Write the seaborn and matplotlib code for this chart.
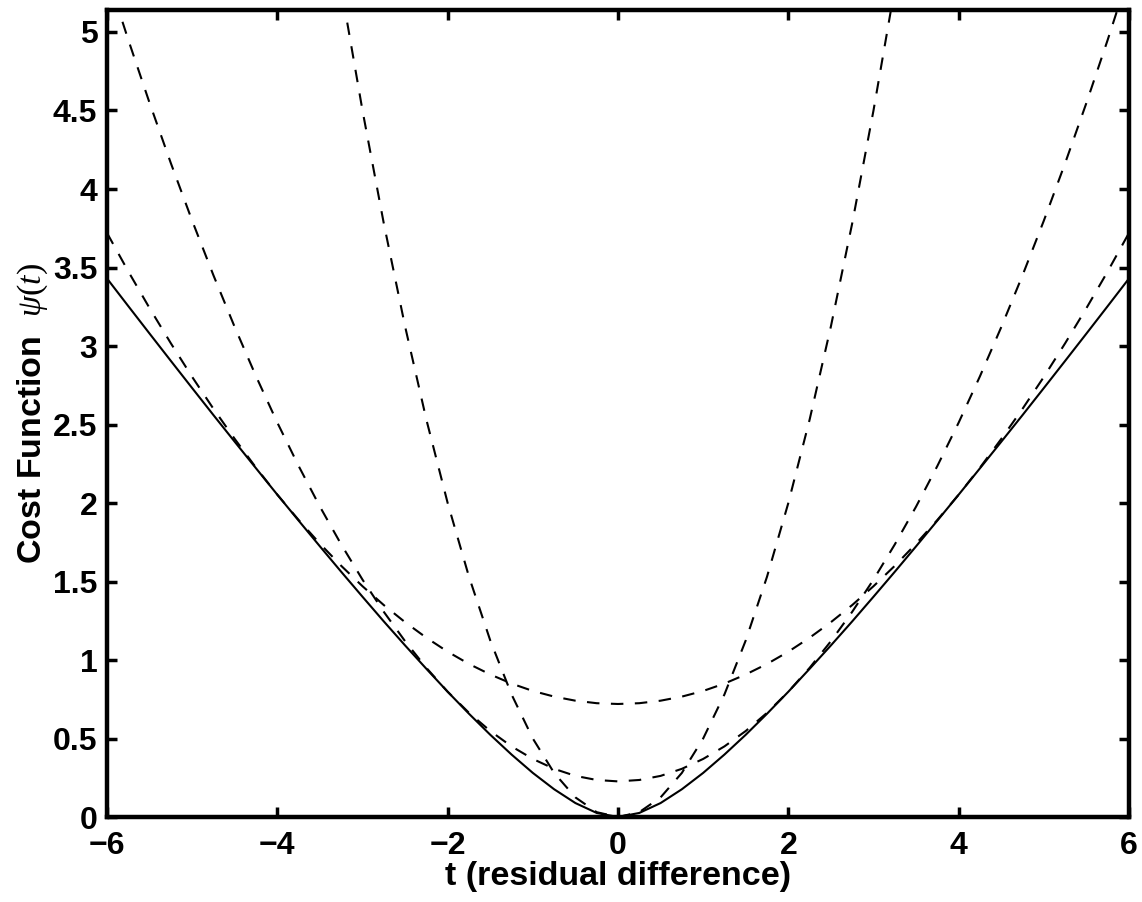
import pandas as pd
import matplotlib
matplotlib.use("Agg")
import matplotlib.pyplot as plt
import seaborn as sns

# residual grid (step 0.25)
t_vals = [-6.0, -5.75, -5.5, -5.25, -5.0, -4.75, -4.5, -4.25, -4.0, -3.75, -3.5, -3.25,
          -3.0, -2.75, -2.5, -2.25, -2.0, -1.75, -1.5, -1.25, -1.0, -0.75, -0.5, -0.25,
          0.0, 0.25, 0.5, 0.75, 1.0, 1.25, 1.5, 1.75, 2.0, 2.25, 2.5, 2.75, 3.0, 3.25,
          3.5, 3.75, 4.0, 4.25, 4.5, 4.75, 5.0, 5.25, 5.5, 5.75, 6.0]

# solid cost function psi(t)
psi_vals = [3.430, 3.254, 3.079, 2.905, 2.732, 2.560, 2.390, 2.221, 2.053, 1.888, 1.724, 1.562,
            1.403, 1.246, 1.093, 0.944, 0.798, 0.658, 0.524, 0.398, 0.281, 0.177, 0.089, 0.026,
            0.000, 0.026, 0.089, 0.177, 0.281, 0.398, 0.524, 0.658, 0.798, 0.944, 1.093, 1.246,
            1.403, 1.562, 1.724, 1.888, 2.053, 2.221, 2.390, 2.560, 2.732, 2.905, 3.079, 3.254, 3.430]

# dashed surrogate touching near |t| = 2 (min ~0.22)
surr_mid = [5.370, 4.950, 4.548, 4.164, 3.798, 3.450, 3.120, 2.807, 2.512, 2.236, 1.977, 1.736,
            1.512, 1.307, 1.120, 0.950, 0.798, 0.664, 0.548, 0.450, 0.370, 0.307, 0.262, 0.236,
            0.227, 0.236, 0.262, 0.307, 0.370, 0.450, 0.548, 0.664, 0.798, 0.950, 1.120, 1.307,
            1.512, 1.736, 1.977, 2.236, 2.512, 2.807, 3.120, 3.450, 3.798, 4.164, 4.548, 4.950, 5.370]

# dashed surrogate touching near |t| = 4 (min ~0.72)
surr_wide = [3.720, 3.475, 3.241, 3.017, 2.803, 2.600, 2.408, 2.225, 2.053, 1.892, 1.741, 1.600,
             1.470, 1.350, 1.241, 1.142, 1.053, 0.975, 0.908, 0.850, 0.803, 0.767, 0.741, 0.725,
             0.720, 0.725, 0.741, 0.767, 0.803, 0.850, 0.908, 0.975, 1.053, 1.142, 1.241, 1.350,
             1.470, 1.600, 1.741, 1.892, 2.053, 2.225, 2.408, 2.600, 2.803, 3.017, 3.241, 3.475, 3.720]

# steep dashed surrogate touching at 0
t_steep = [-3.5, -3.25, -3.0, -2.75, -2.5, -2.25, -2.0, -1.75, -1.5, -1.25, -1.0, -0.75, -0.5, -0.25,
           0.0, 0.25, 0.5, 0.75, 1.0, 1.25, 1.5, 1.75, 2.0, 2.25, 2.5, 2.75, 3.0, 3.25, 3.5]
surr_steep = [6.125, 5.281, 4.500, 3.781, 3.125, 2.531, 2.000, 1.531, 1.125, 0.781, 0.500, 0.281, 0.125, 0.031,
              0.000, 0.031, 0.125, 0.281, 0.500, 0.781, 1.125, 1.531, 2.000, 2.531, 3.125, 3.781, 4.500, 5.281, 6.125]

x_ticks = [-6, -4, -2, 0, 2, 4, 6]
x_tick_labels = ['\u22126', '\u22124', '\u22122', '0', '2', '4', '6']
y_ticks = [0, 0.5, 1, 1.5, 2, 2.5, 3, 3.5, 4, 4.5, 5]
y_tick_labels = ['0', '0.5', '1', '1.5', '2', '2.5', '3', '3.5', '4', '4.5', '5']

df = pd.concat([
    pd.DataFrame({'t': t_vals, 'cost': psi_vals, 'curve': 'psi'}),
    pd.DataFrame({'t': t_vals, 'cost': surr_mid, 'curve': 'mid'}),
    pd.DataFrame({'t': t_vals, 'cost': surr_wide, 'curve': 'wide'}),
    pd.DataFrame({'t': t_steep, 'cost': surr_steep, 'curve': 'steep'}),
], ignore_index=True)

sns.set_style('white')
plt.rcParams['font.family'] = ['Liberation Sans', 'DejaVu Sans']
plt.rcParams['font.weight'] = 'bold'
# thin serif italic for psi(t), like the original
plt.rcParams['mathtext.fontset'] = 'custom'
plt.rcParams['mathtext.it'] = 'Liberation Serif:italic:normal'
plt.rcParams['mathtext.rm'] = 'Liberation Serif:normal'
for key in ['text.color', 'axes.labelcolor', 'xtick.color', 'ytick.color']:
    plt.rcParams[key] = 'black'

fig = plt.figure(figsize=(11.42, 9.02), dpi=100)
ax = fig.add_axes([0.0937, 0.0942, 0.8949, 0.8947])

dash = (6, 5.5)
sns.lineplot(data=df, x='t', y='cost', style='curve',
             dashes={'psi': '', 'mid': dash, 'wide': dash, 'steep': dash},
             color='black', linewidth=1.5, estimator=None, sort=False,
             legend=False, ax=ax)

ax.set_xlim(-6, 6)
ax.set_ylim(0, 5.14)
ax.set_xticks(x_ticks)
ax.set_xticklabels(x_tick_labels)
ax.set_yticks(y_ticks)
ax.set_yticklabels(y_tick_labels)

for side in ['left', 'right', 'top', 'bottom']:
    ax.spines[side].set_visible(True)
    ax.spines[side].set_linewidth(3.2)
    ax.spines[side].set_color('black')

ax.tick_params(axis='both', direction='in', length=7, width=2.5, color='black',
               labelcolor='black', labelsize=23, top=True, right=True, bottom=True, left=True)
ax.tick_params(axis='x', pad=10)
ax.tick_params(axis='y', pad=7)
for lab in ax.get_xticklabels() + ax.get_yticklabels():
    lab.set_fontweight('bold')

ax.set_xlabel('t (residual difference)', fontsize=24.5, fontweight='bold', labelpad=0)
ax.set_ylabel(r'Cost Function  $\psi(t)$', fontsize=24.5, fontweight='bold', labelpad=2)

fig.savefig('out.png', dpi=100)
